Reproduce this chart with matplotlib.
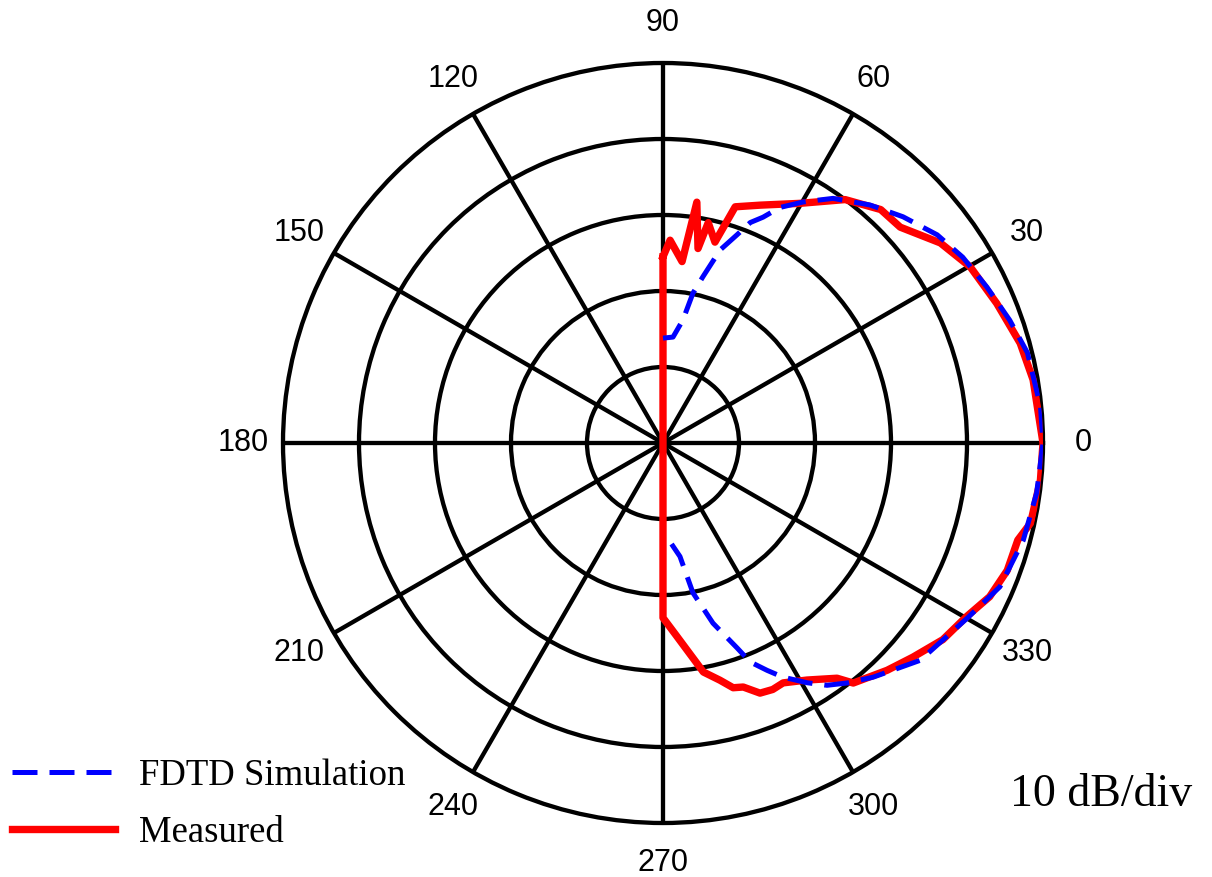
import numpy as np
import matplotlib
matplotlib.use("Agg")
import matplotlib.pyplot as plt

# angles in degrees (90 -> 0 -> -90), levels in dB
meas_deg = [90, 88, 84, 82, 79.8, 78.4, 75.5, 73, 67.8, 60.3, 53.2, 47, 42.3, 35.8,
            29.8, 22.7, 15.6, 9.7, 0, -5.6, -12.3, -15.3, -20.3, -25.2, -29.8, -35.1,
            -40.6, -45.4, -51.6, -53.5, -58.7, -63.4, -66, -68.8, -71.8, -74, -76.5,
            -80, -82.7, -85.9, -90]
meas_db = [-25.5, -23.3, -26, -18, -24, -20.4, -22.7, -17.5, -16.2, -13.7, -10, -8,
           -7.8, -5, -3.4, -2.4, -1.2, -0.6, 0, -0.1, -0.5, -1.6, -1.7, -2.5, -4, -5,
           -6.7, -8, -9.7, -11.5, -13.5, -14.7, -14.5, -14.7, -16.2, -16.5, -17.9,
           -19.4, -22, -24.5, -27]

sim_deg = [90, 84.6, 80.8, 78.7, 76.5, 73.5, 70.4, 68.4, 66.1, 63.6, 59.8, 55.2, 49,
           43.3, 37.2, 31.8, 25.7, 19.5, 13.9, 5.5, 0, -7.6, -15.1, -23.1, -29.9,
           -40.2, -48.1, -52.5, -55.9, -59, -62.9, -65.4, -68.3, -70.1, -74.5, -78.7,
           -81.5, -86, -90]
sim_db = [-36.2, -36, -33.6, -29.9, -27.5, -23.5, -20.9, -18.8, -17.5, -15.4, -13.3,
          -10.8, -8.5, -6.6, -4.7, -3.6, -2.7, -1.6, -0.6, -0.1, 0, -0.4, -0.9, -1.8,
          -3.8, -5.7, -8.6, -10.2, -11.5, -13.2, -15.4, -17.1, -19, -21.3, -25.4,
          -29.9, -34.9, -37, -36.5]

theta_ticks = list(range(0, 360, 30))
theta_labels = [str(t) for t in theta_ticks]
ring_db = [-40, -30, -20, -10]


def main():
    fig = plt.figure(figsize=(12.12, 8.77), dpi=100)
    ax = fig.add_axes([283 / 1212, 54 / 877, 760 / 1212, 760 / 877], projection="polar")

    ax.set_ylim(-50, 0)
    ax.set_yticks(ring_db)
    ax.set_yticklabels([])
    ax.set_xticks(np.deg2rad(theta_ticks))
    ax.set_xticklabels([])
    ax.grid(True, color="black", linewidth=3.1)
    ax.spines["polar"].set_linewidth(3.1)
    ax.spines["polar"].set_color("black")

    for t, lab in zip(theta_ticks, theta_labels):
        ax.text(np.deg2rad(t), 5.3, lab, ha="center", va="center",
                fontsize=22, family="Liberation Sans", clip_on=False)

    # measured trace is closed (the vertical line through the centre)
    m_th = np.deg2rad(meas_deg + [meas_deg[0]])
    m_r = meas_db + [meas_db[0]]
    ax.plot(m_th, m_r, color="red", linewidth=5.3, solid_joinstyle="round",
            label="Measured", zorder=3)

    line, = ax.plot(np.deg2rad(sim_deg), sim_db, color="blue", linewidth=3.6,
                    linestyle="--", label="FDTD Simulation", zorder=4)
    line.set_dashes((5, 2.4))

    handles, labels = ax.get_legend_handles_labels()
    fig.legend(handles[::-1], labels[::-1], loc="center left",
               bbox_to_anchor=(12 / 1212, 1 - 804 / 877),
               frameon=False, borderpad=0, borderaxespad=0,
               handlelength=2.8, handletextpad=0.65, labelspacing=0.6,
               prop={"family": "Liberation Serif", "size": 26.5})

    fig.text(1010 / 1212, 1 - 795 / 877, "10 dB/div", ha="left", va="center",
             fontsize=33, family="Liberation Serif")

    fig.savefig("out.png", dpi=100)


if __name__ == "__main__":
    main()
